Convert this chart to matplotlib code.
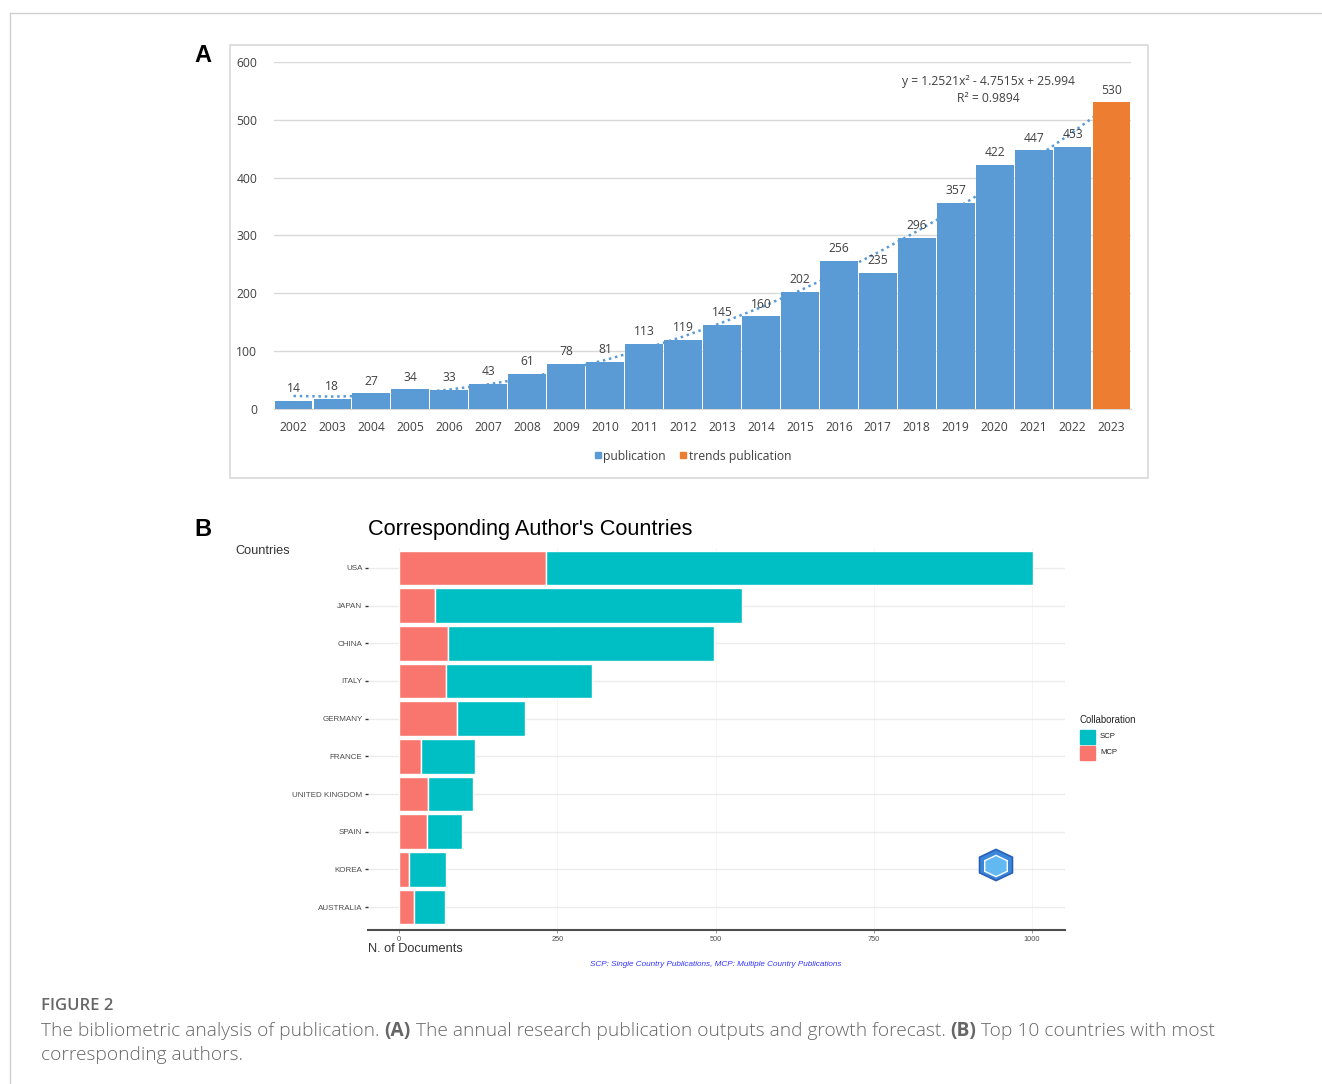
import numpy as np
import matplotlib
matplotlib.use("Agg")
import matplotlib.pyplot as plt
from matplotlib.lines import Line2D
from matplotlib.patches import Rectangle, RegularPolygon

W, H = 1322, 1084

# ------------------------------------------
# Daten Panel A
# ------------------------------------------
years = [str(y) for y in range(2002, 2024)]
publications = [14, 18, 27, 34, 33, 43, 61, 78, 81, 113, 119, 145, 160, 202,
                256, 235, 296, 357, 422, 447, 453, 530]
trend_coef = [1.2521, -4.7515, 25.994]  # aus der Gleichung im Diagramm

# ------------------------------------------
# Daten Panel B
# ------------------------------------------
countries = ["USA", "JAPAN", "CHINA", "ITALY", "GERMANY", "FRANCE",
             "UNITED KINGDOM", "SPAIN", "KOREA", "AUSTRALIA"]
mcp = [232, 57, 77, 74, 92, 35, 46, 44, 16, 24]
scp = [770, 485, 421, 231, 107, 85, 71, 56, 58, 49]


def box(l, t, r, b):
    return [l / W, 1 - b / H, (r - l) / W, (b - t) / H]


fig = plt.figure(figsize=(W / 100, H / 100), dpi=100)
fig.patch.set_facecolor("white")

# Rahmenlinien der Seite
fig.add_artist(Line2D([10 / W, 1], [1 - 13 / H, 1 - 13 / H], color="#d0d0d0", lw=1))
fig.add_artist(Line2D([10 / W, 10 / W], [0, 1 - 13 / H], color="#d0d0d0", lw=1))

# ------------------------------------------
# Panel A
# ------------------------------------------
fig.add_artist(Rectangle((230 / W, 1 - 478 / H), 918 / W, 433 / H,
                         transform=fig.transFigure, fill=False,
                         edgecolor="#d9d9d9", lw=1.2))
fig.text(203 / W, 1 - 56 / H, "A", fontsize=17, fontweight="bold",
         ha="center", va="center", family="Liberation Sans")

font_a = ["Open Sans", "DejaVu Sans"]
ax = fig.add_axes(box(274, 62, 1131, 409))
x = np.arange(len(years))
colors = ["#5B9BD5"] * (len(years) - 1) + ["#ED7D31"]
ax.bar(x, publications, width=0.97, color=colors, zorder=3)

xi = np.arange(1, len(years) + 1)
ax.plot(x, np.polyval(trend_coef, xi), linestyle=(0, (1, 1.5)), color="#5B9BD5",
        lw=1.8, zorder=2)

for xx, v in zip(x, publications):
    ax.text(xx, v + 10, str(v), ha="center", va="bottom", fontsize=8.7,
            color="#404040", family=font_a, fontweight="medium")

ax.set_xlim(-0.5, len(years) - 0.5)
ax.set_ylim(0, 600)
ax.set_yticks(range(0, 601, 100))
ax.set_xticks(x)
ax.set_xticklabels(years)
ax.tick_params(length=0, labelsize=8.7, labelcolor="#404040")
ax.tick_params(axis="y", pad=12)
ax.tick_params(axis="x", pad=9)
for lab in ax.get_xticklabels() + ax.get_yticklabels():
    lab.set_family(font_a)
    lab.set_fontweight("medium")
ax.grid(axis="y", color="#d9d9d9", lw=1, zorder=0)
for s in ["top", "right", "left"]:
    ax.spines[s].set_visible(False)
ax.spines["bottom"].set_color("#d9d9d9")

ax.text(988 / W, 1 - 82 / H, "y = 1.2521x² - 4.7515x + 25.994", transform=fig.transFigure,
        ha="center", va="center", fontsize=8.7, color="#404040", family=font_a,
        fontweight="medium")
ax.text(988 / W, 1 - 98 / H, "R² = 0.9894", transform=fig.transFigure,
        ha="center", va="center", fontsize=8.7, color="#404040", family=font_a,
        fontweight="medium")

handles = [Line2D([], [], marker="s", ls="", color="#5B9BD5", markersize=5),
           Line2D([], [], marker="s", ls="", color="#ED7D31", markersize=5)]
ax.legend(handles, ["publication", "trends publication"], loc="center",
          bbox_to_anchor=(693 / W, 1 - 456 / H), bbox_transform=fig.transFigure,
          ncol=2, frameon=False, handlelength=0.5, handletextpad=0.2,
          columnspacing=1.2, prop={"family": font_a, "size": 8.7, "weight": "medium"},
          labelcolor="#404040")

# ------------------------------------------
# Panel B
# ------------------------------------------
font_b = ["Liberation Sans", "DejaVu Sans"]
fig.text(203 / W, 1 - 530 / H, "B", fontsize=17, fontweight="bold",
         ha="center", va="center", family="Liberation Sans")
fig.text(368 / W, 1 - 529 / H, "Corresponding Author's Countries", fontsize=15.7,
         ha="left", va="center", family=font_b)
fig.text(235 / W, 1 - 551 / H, "Countries", fontsize=9.2, color="#333333",
         ha="left", va="center", family=font_b)

bx = fig.add_axes(box(368, 548, 1065, 930))
ypos = np.arange(len(countries))[::-1]
bx.barh(ypos, mcp, height=0.92, color="#F8766D", edgecolor="white", lw=1, zorder=3)
bx.barh(ypos, scp, left=mcp, height=0.92, color="#00BFC4", edgecolor="white", lw=1, zorder=3)
bx.set_xlim(-49, 1052)
bx.set_ylim(-0.61, 9.53)
bx.set_yticks(ypos)
bx.set_yticklabels(countries)
bx.set_xticks([0, 250, 500, 750, 1000])
bx.tick_params(axis="y", length=2, width=1, color="#333333", labelsize=5.8,
               labelcolor="#4d4d4d", pad=2)
bx.tick_params(axis="x", length=2, width=0.6, color="#888888", labelsize=5.3,
               labelcolor="#4d4d4d", pad=2)
for lab in bx.get_xticklabels() + bx.get_yticklabels():
    lab.set_family(font_b)
bx.grid(axis="y", color="#ebebeb", lw=1, zorder=0)
bx.grid(axis="x", color="#f4f4f4", lw=0.6, zorder=0)
for s in ["top", "right", "left"]:
    bx.spines[s].set_visible(False)
bx.spines["bottom"].set_color("#4d4d4d")
bx.spines["bottom"].set_linewidth(1.5)

fig.text(368 / W, 1 - 949 / H, "N. of Documents", fontsize=9.2, color="#333333",
         ha="left", va="center", family=font_b)
fig.text(716 / W, 1 - 965 / H,
         "SCP: Single Country Publications, MCP: Multiple Country Publications",
         fontsize=5.9, color="#3333ff", style="italic", ha="center", va="center",
         family=font_b)

# Legende Panel B
fig.text(1080 / W, 1 - 720 / H, "Collaboration", fontsize=6.9, color="#222222",
         ha="left", va="center", family=font_b)
fig.add_artist(Rectangle((1080 / W, 1 - 744 / H), 15 / W, 14 / H,
                         transform=fig.transFigure, color="#00BFC4"))
fig.add_artist(Rectangle((1080 / W, 1 - 760 / H), 15 / W, 14 / H,
                         transform=fig.transFigure, color="#F8766D"))
fig.text(1100 / W, 1 - 737 / H, "SCP", fontsize=5.6, color="#222222",
         ha="left", va="center", family=font_b)
fig.text(1100 / W, 1 - 753 / H, "MCP", fontsize=5.6, color="#222222",
         ha="left", va="center", family=font_b)

# Logo (vereinfacht)
fig.add_artist(RegularPolygon((996 / W, 1 - 865 / H), numVertices=6, radius=19 / W,
                              orientation=0, transform=fig.transFigure,
                              facecolor="#3a86d8", edgecolor="#2a5fb8", lw=1.2))
fig.add_artist(RegularPolygon((996 / W, 1 - 866 / H), numVertices=6, radius=13 / W,
                              orientation=0, transform=fig.transFigure,
                              facecolor="#62b8f0", edgecolor="white", lw=1))

# ------------------------------------------
# Bildunterschrift
# ------------------------------------------
fig.text(41 / W, 1 - 1006 / H, "FIGURE 2", fontsize=12, color="#666666",
         ha="left", va="center", family="Open Sans", fontweight="semibold")

cap_font = "Open Sans"
cap_size = 13.8
parts1 = [("The bibliometric analysis of publication. ", "light"), ("(A)", "bold"),
          (" The annual research publication outputs and growth forecast. ", "light"),
          ("(B)", "bold"), (" Top 10 countries with most", "light")]
fig.canvas.draw()
renderer = fig.canvas.get_renderer()
xc = 41 / W
for txt, wt in parts1:
    t = fig.text(xc, 1 - 1031 / H, txt, fontsize=cap_size, color="#666666",
                 ha="left", va="center", family=cap_font, fontweight=wt)
    bb = t.get_window_extent(renderer)
    xc += bb.width / W
fig.text(41 / W, 1 - 1055 / H, "corresponding authors.", fontsize=cap_size,
         color="#666666", ha="left", va="center", family=cap_font, fontweight="light")

fig.savefig("out.png", dpi=100)
